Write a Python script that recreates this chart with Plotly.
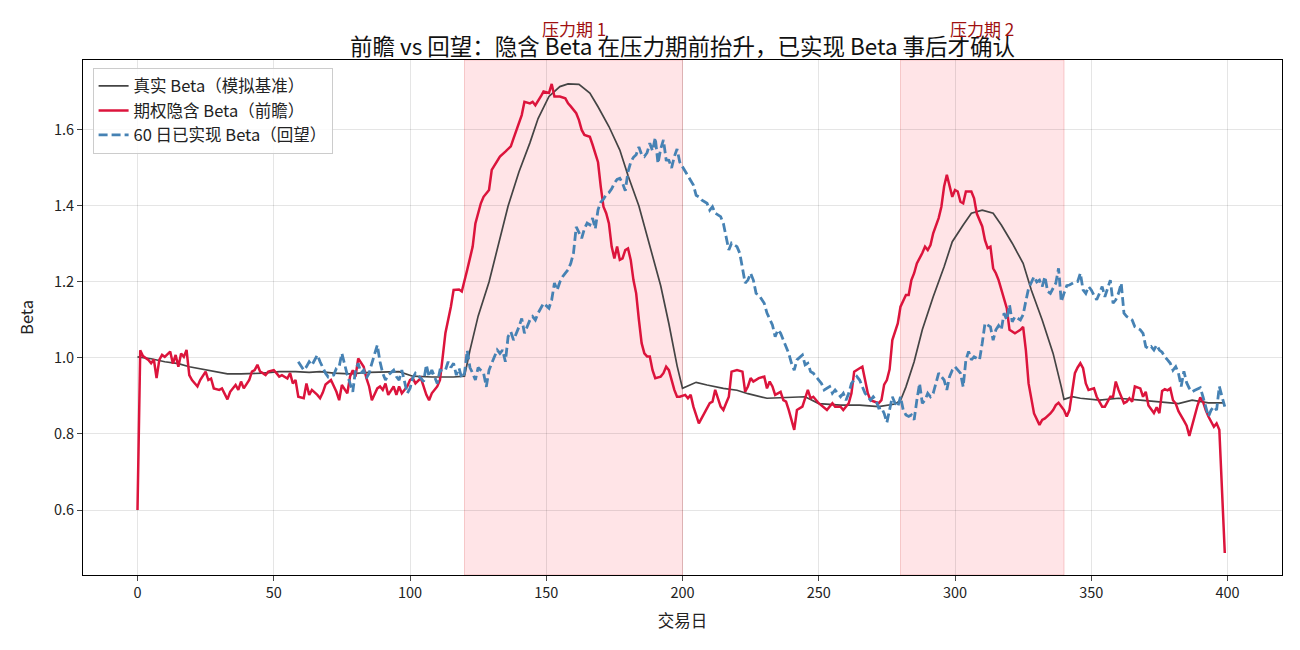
import plotly.graph_objects as go

# ---------------- data ----------------
true_days = [0,5,10,15,19,23,28,33,38,46,52,58,63,67,72,78,85,91,96,101,108,116,120,122,125,129,133,136,140,144,147,151,155,158,162,166,169,173,177,180,184,188,192,195,198,200,205,209,215,220,224,231,239,245,250,258,265,272,278,280,282,285,288,292,296,299,303,306,310,314,317,321,325,328,332,336,339,340,343,346,353,360,368,375,382,387,393,399]
true_beta = [1.003,0.998,0.99,0.985,0.977,0.971,0.965,0.958,0.958,0.96,0.964,0.964,0.962,0.964,0.96,0.958,0.962,0.964,0.964,0.952,0.95,0.95,0.952,1.02,1.11,1.20,1.31,1.40,1.49,1.566,1.63,1.688,1.714,1.721,1.72,1.697,1.661,1.609,1.547,1.48,1.40,1.293,1.19,1.09,0.98,0.92,0.936,0.929,0.92,0.915,0.906,0.894,0.896,0.898,0.88,0.876,0.876,0.872,0.879,0.888,0.924,0.99,1.074,1.161,1.24,1.306,1.35,1.381,1.389,1.381,1.35,1.302,1.249,1.179,1.10,1.012,0.924,0.891,0.898,0.894,0.889,0.894,0.889,0.885,0.88,0.889,0.882,0.882]

implied_days = [0,1,2,4,5,6,7,8,9,10,12,13,14,15,16,17,18,19,20,22,23,25,26,27,28,30,31,32,33,34,36,37,38,39,41,42,43,44,45,46,47,48,50,51,52,53,55,56,57,58,59,61,62,63,64,66,67,68,69,71,73,74,75,77,78,79,80,81,83,84,85,86,88,89,90,91,92,94,95,96,97,99,100,101,102,104,105,106,107,108,110,111,112,113,115,116,118,119,121,123,124,126,127,129,130,133,135,137,138,140,141,142,144,145,146,148,149,151,152,153,155,157,158,159,161,162,163,164,166,167,168,169,170,171,172,173,174,175,176,177,178,179,180,181,182,183,184,185,186,187,188,189,190,192,193,194,195,196,197,198,199,201,202,203,204,206,208,210,211,212,214,215,216,217,218,220,222,223,224,225,226,228,230,231,232,233,234,236,237,238,239,241,242,244,246,247,248,249,250,253,255,256,258,259,261,262,263,265,266,267,268,269,271,272,273,274,275,276,277,279,280,281,282,283,284,285,286,288,289,290,291,292,294,295,296,297,298,299,300,301,302,303,304,306,307,308,310,311,312,313,314,315,316,317,318,319,320,322,324,325,326,327,329,330,331,332,333,335,336,337,338,340,341,342,343,344,345,346,347,348,349,351,352,353,354,355,357,358,359,360,362,363,364,365,366,368,369,370,371,373,374,375,376,377,378,379,380,381,382,384,385,386,387,388,389,390,391,392,393,395,396,397,398,399]
implied_beta = [0.600,1.020,1.005,0.995,0.986,0.996,0.947,0.995,1.008,1.003,1.017,0.985,1.008,0.977,1.012,1.003,1.021,0.955,0.942,0.925,0.942,0.964,0.942,0.946,0.920,0.916,0.920,0.903,0.891,0.911,0.929,0.916,0.938,0.920,0.942,0.964,0.968,0.982,0.964,0.960,0.955,0.964,0.968,0.960,0.951,0.955,0.946,0.960,0.933,0.942,0.898,0.894,0.933,0.903,0.916,0.903,0.894,0.909,0.930,0.942,0.911,0.889,0.929,0.907,0.951,0.968,0.951,0.999,0.977,0.947,0.925,0.889,0.920,0.925,0.916,0.933,0.903,0.925,0.903,0.925,0.907,0.925,0.942,0.947,0.933,0.947,0.925,0.903,0.889,0.907,0.925,0.942,1.003,1.066,1.135,1.179,1.180,1.175,1.232,1.293,1.354,1.407,1.424,1.442,1.495,1.530,1.543,1.557,1.578,1.622,1.639,1.674,1.670,1.674,1.665,1.688,1.701,1.697,1.721,1.688,1.688,1.683,1.670,1.662,1.644,1.626,1.600,1.587,1.582,1.561,1.539,1.515,1.451,1.398,1.381,1.354,1.293,1.262,1.293,1.258,1.262,1.284,1.288,1.258,1.205,1.170,1.100,1.039,1.012,1.004,1.004,0.968,0.947,0.951,0.960,0.977,0.968,0.942,0.916,0.898,0.898,0.903,0.894,0.903,0.872,0.828,0.854,0.881,0.885,0.916,0.872,0.863,0.881,0.898,0.964,0.968,0.964,0.911,0.925,0.947,0.938,0.947,0.951,0.920,0.938,0.925,0.903,0.911,0.889,0.885,0.863,0.811,0.863,0.872,0.916,0.894,0.898,0.889,0.881,0.863,0.881,0.872,0.872,0.863,0.881,0.907,0.964,0.973,0.977,0.942,0.907,0.889,0.885,0.881,0.889,0.930,0.942,0.970,1.047,1.091,1.135,1.153,1.166,1.166,1.205,1.223,1.249,1.276,1.293,1.284,1.297,1.328,1.368,1.398,1.451,1.482,1.451,1.424,1.442,1.438,1.411,1.407,1.438,1.438,1.420,1.380,1.346,1.310,1.289,1.293,1.236,1.223,1.205,1.180,1.161,1.131,1.074,1.065,1.074,1.082,1.021,0.933,0.854,0.837,0.824,0.837,0.841,0.854,0.863,0.876,0.882,0.863,0.846,0.863,0.916,0.960,0.975,0.986,0.973,0.933,0.916,0.920,0.898,0.885,0.872,0.872,0.898,0.898,0.938,0.916,0.881,0.885,0.894,0.885,0.925,0.920,0.898,0.911,0.875,0.855,0.870,0.855,0.913,0.918,0.915,0.920,0.889,0.880,0.860,0.835,0.822,0.795,0.822,0.850,0.875,0.896,0.885,0.863,0.846,0.819,0.828,0.811,0.660,0.487]

realized_days = [59,61,62,63,64,66,67,68,69,70,72,73,74,75,76,77,78,79,80,81,82,83,84,85,86,88,89,90,91,92,94,95,96,97,99,100,101,102,104,105,106,107,108,110,111,112,113,114,115,116,117,118,119,120,121,122,123,124,125,127,128,129,130,132,133,134,135,136,137,138,140,141,142,143,144,145,146,147,149,151,152,153,154,155,156,157,158,159,160,161,162,163,164,165,166,167,168,169,170,171,172,173,174,175,176,177,178,179,180,181,182,183,184,185,186,187,188,189,190,191,192,193,194,195,196,197,198,199,200,201,202,203,204,205,206,207,209,210,211,212,214,215,216,217,218,220,221,222,223,224,225,226,227,228,230,231,232,233,234,235,236,237,238,239,240,241,242,244,245,246,247,248,250,251,252,254,255,256,258,259,260,261,262,264,265,266,267,269,270,271,272,273,274,275,276,277,278,279,280,281,282,283,284,285,286,287,288,289,290,291,292,293,294,296,297,298,299,300,302,303,304,305,306,307,309,310,311,313,314,315,316,317,318,319,320,321,322,324,325,326,327,329,330,331,332,333,334,335,336,337,338,339,340,341,342,343,344,345,346,347,348,349,350,351,352,353,354,355,357,358,359,360,361,362,363,365,366,368,369,370,371,372,373,374,375,376,377,378,379,380,381,382,383,384,385,386,387,388,389,390,391,392,393,394,395,396,397,398,399]
realized_beta = [0.990,0.968,0.977,0.990,0.981,1.008,0.990,0.975,0.960,0.950,0.955,0.973,0.977,1.012,0.982,0.955,0.933,0.911,0.968,0.986,0.960,0.968,0.947,0.960,0.986,1.034,0.990,0.960,0.942,0.955,0.968,0.951,0.942,0.968,0.907,0.920,0.947,0.960,0.947,0.938,0.982,0.951,0.968,0.933,0.968,0.965,0.968,0.990,0.975,0.986,0.955,0.973,0.947,0.960,1.020,0.975,0.960,0.942,0.975,0.960,0.924,0.968,0.986,1.021,1.012,1.021,0.990,1.056,1.069,1.047,1.082,1.104,1.065,1.082,1.100,1.109,1.100,1.118,1.144,1.131,1.153,1.197,1.179,1.200,1.214,1.223,1.232,1.249,1.276,1.345,1.330,1.315,1.340,1.355,1.350,1.368,1.340,1.390,1.410,1.418,1.430,1.435,1.445,1.460,1.470,1.473,1.460,1.440,1.490,1.515,1.528,1.535,1.555,1.535,1.530,1.540,1.565,1.545,1.580,1.512,1.550,1.574,1.521,1.520,1.500,1.530,1.550,1.515,1.503,1.490,1.480,1.465,1.455,1.428,1.424,1.416,1.407,1.389,1.398,1.381,1.372,1.354,1.320,1.284,1.302,1.293,1.276,1.240,1.197,1.205,1.223,1.205,1.170,1.166,1.144,1.118,1.100,1.087,1.056,1.074,1.065,1.047,1.030,1.012,0.986,0.968,0.995,1.008,0.982,0.986,0.964,0.960,0.942,0.933,0.916,0.925,0.907,0.916,0.898,0.907,0.889,0.907,0.933,0.951,0.942,0.925,0.907,0.889,0.898,0.889,0.868,0.870,0.854,0.830,0.868,0.898,0.881,0.872,0.898,0.863,0.850,0.846,0.850,0.837,0.889,0.933,0.881,0.889,0.907,0.898,0.907,0.933,0.960,0.942,0.916,0.951,0.968,0.977,0.960,0.924,0.995,1.017,0.995,1.003,0.995,1.039,1.091,1.082,1.047,1.074,1.085,1.074,1.118,1.100,1.140,1.095,1.109,1.100,1.114,1.150,1.183,1.214,1.200,1.205,1.188,1.214,1.175,1.170,1.183,1.197,1.236,1.148,1.170,1.190,1.192,1.197,1.200,1.201,1.223,1.179,1.170,1.188,1.179,1.165,1.153,1.170,1.188,1.161,1.205,1.144,1.153,1.170,1.197,1.118,1.109,1.100,1.082,1.074,1.065,1.030,1.025,1.030,1.021,1.034,1.021,1.015,1.003,0.995,0.986,0.968,0.977,0.960,0.925,0.965,0.935,0.920,0.911,0.915,0.918,0.922,0.898,0.872,0.846,0.863,0.872,0.863,0.925,0.898,0.872]

stress_periods = [(120, 200, "压力期 1"), (280, 340, "压力期 2")]
series_names = ["真实 Beta（模拟基准）", "期权隐含 Beta（前瞻）", "60 日已实现 Beta（回望）"]
title_text = "前瞻 vs 回望：隐含 Beta 在压力期前抬升，已实现 Beta 事后才确认"
x_ticks = [0, 50, 100, 150, 200, 250, 300, 350, 400]
y_ticks = [0.6, 0.8, 1.0, 1.2, 1.4, 1.6]

FONT = "Noto Sans CJK SC, Noto Sans, sans-serif"

fig = go.Figure()

for (a, b, label) in stress_periods:
    fig.add_vrect(x0=a, x1=b, fillcolor="rgba(255,105,120,0.18)",
                  line=dict(color="rgba(230,120,120,0.35)", width=1), layer="below")
    fig.add_annotation(x=(a + b) / 2, xref="x", y=1.0, yref="paper", yshift=32,
                       yanchor="middle", xanchor="center",
                       text=label, showarrow=False,
                       font=dict(family=FONT, size=17, color="#a01010"))

fig.add_trace(go.Scatter(x=true_days, y=true_beta, mode="lines", name=series_names[0],
                         line=dict(color="#444444", width=1.7)))
fig.add_trace(go.Scatter(x=implied_days, y=implied_beta, mode="lines", name=series_names[1],
                         line=dict(color="#DC143C", width=2.5)))
fig.add_trace(go.Scatter(x=realized_days, y=realized_beta, mode="lines", name=series_names[2],
                         line=dict(color="#4682B4", width=2.8, dash="9px,4px")))

fig.update_layout(
    width=1300, height=650,
    margin=dict(l=83, r=18, t=60, b=75),
    paper_bgcolor="white", plot_bgcolor="white",
    font=dict(family=FONT, size=14, color="#222"),
    title=dict(text=title_text, x=0.5, xref="paper", xanchor="center",
               y=1.0, yref="paper", yanchor="bottom", pad=dict(b=5),
               font=dict(family=FONT, size=22.5, color="#111")),
    showlegend=True,
    legend=dict(x=0.008, y=0.985, xanchor="left", yanchor="top",
                bgcolor="rgba(255,255,255,0.85)", bordercolor="#cccccc", borderwidth=1,
                font=dict(family=FONT, size=16.5, color="#222"), tracegroupgap=0),
)

fig.update_xaxes(range=[-20, 420], tickvals=x_ticks, ticks="outside", ticklen=5,
                 tickfont=dict(size=14.5),
                 showline=True, linecolor="black", linewidth=1, mirror=True,
                 showgrid=True, gridcolor="rgba(0,0,0,0.1)", zeroline=False,
                 title=dict(text="交易日", font=dict(family=FONT, size=16.5), standoff=14))
fig.update_yaxes(range=[0.429, 1.784], tickvals=y_ticks, tickformat=".1f",
                 ticks="outside", ticklen=5, tickfont=dict(size=14.5),
                 showline=True, linecolor="black", linewidth=1, mirror=True,
                 showgrid=True, gridcolor="rgba(0,0,0,0.1)", zeroline=False,
                 title=dict(text="Beta", font=dict(family=FONT, size=16.5), standoff=16))

fig.write_html("out.html")
